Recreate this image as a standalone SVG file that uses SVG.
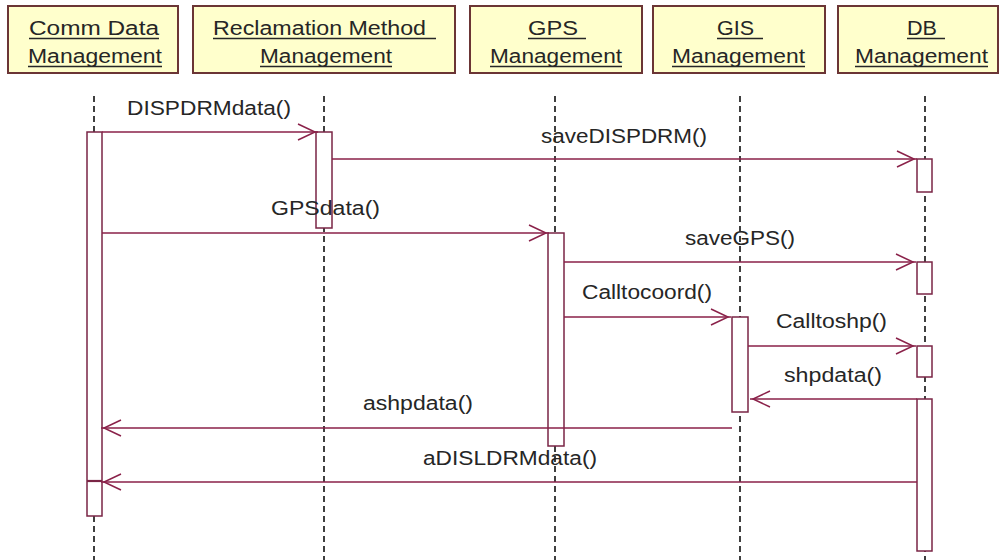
<svg xmlns="http://www.w3.org/2000/svg" width="1001" height="560" viewBox="0 0 1001 560">
  <defs>
    <style>
      .head { fill: #FFFFCC; stroke: #6b3535; stroke-width: 2; }
      .htxt { font-family: "Liberation Sans", Arial, sans-serif; font-size: 20px; fill: #262626; }
      .uline { stroke: #262626; stroke-width: 1.4; }
      .life { stroke: #111; stroke-width: 1.6; stroke-dasharray: 6 4; fill: none; }
      .act { fill: #ffffff; stroke: #7a2545; stroke-width: 1.5; }
      .msg { stroke: #8a2149; stroke-width: 1.5; fill: none; marker-end: url(#open); }
      .ret { stroke: #8a2149; stroke-width: 1.5; fill: none; }
      .mtxt { font-family: "Liberation Sans", Arial, sans-serif; font-size: 20px; fill: #262626; }
    </style>
    <!-- open V arrowhead, tip sits 3px short of the line end -->
    <marker id="open" markerUnits="userSpaceOnUse" markerWidth="24" markerHeight="20" refX="20" refY="8" orient="auto" overflow="visible">
      <path d="M0,0 L17,8 L0,16" fill="none" stroke="#8a2149" stroke-width="1.5"/>
    </marker>
  </defs>

  <rect width="1001" height="560" fill="#ffffff"/>

  <!-- lifelines -->
  <g id="lifelines">
    <line class="life" x1="94" y1="96" x2="94" y2="560"/>
    <line class="life" x1="324" y1="96" x2="324" y2="560"/>
    <line class="life" x1="555" y1="96" x2="555" y2="560"/>
    <line class="life" x1="740" y1="96" x2="740" y2="560"/>
    <line class="life" x1="925" y1="96" x2="925" y2="560"/>
  </g>

  <!-- participants -->
  <g id="comm-data">
    <rect class="head" x="8" y="6" width="170" height="67"/>
    <text class="htxt" x="29" y="35" textLength="130" lengthAdjust="spacingAndGlyphs">Comm Data</text>
    <line class="uline" x1="29" y1="38.5" x2="159" y2="38.5"/>
    <text class="htxt" x="28" y="63" textLength="134" lengthAdjust="spacingAndGlyphs">Management</text>
    <line class="uline" x1="28" y1="66.5" x2="162" y2="66.5"/>
    <rect class="act" x="87" y="132" width="15" height="384"/>
    <line x1="87" y1="481" x2="102" y2="481" stroke="#7a2545" stroke-width="2.2"/>
  </g>

  <g id="reclamation-method">
    <rect class="head" x="193" y="6" width="262" height="67"/>
    <text class="htxt" x="213" y="35" textLength="213" lengthAdjust="spacingAndGlyphs">Reclamation Method</text>
    <line class="uline" x1="213" y1="38.5" x2="436" y2="38.5"/>
    <text class="htxt" x="260" y="63" textLength="132" lengthAdjust="spacingAndGlyphs">Management</text>
    <line class="uline" x1="260" y1="66.5" x2="392" y2="66.5"/>
    <rect class="act" x="316" y="132" width="16" height="96"/>
  </g>

  <g id="gps">
    <rect class="head" x="470" y="6" width="172" height="67"/>
    <text class="htxt" x="528" y="35" textLength="50" lengthAdjust="spacingAndGlyphs">GPS</text>
    <line class="uline" x1="528" y1="38.5" x2="586" y2="38.5"/>
    <text class="htxt" x="490" y="63" textLength="132" lengthAdjust="spacingAndGlyphs">Management</text>
    <line class="uline" x1="490" y1="66.5" x2="622" y2="66.5"/>
    <rect class="act" x="548" y="233" width="16" height="213"/>
  </g>

  <g id="gis">
    <rect class="head" x="653" y="6" width="172" height="67"/>
    <text class="htxt" x="717" y="35" textLength="37" lengthAdjust="spacingAndGlyphs">GIS</text>
    <line class="uline" x1="717" y1="38.5" x2="763" y2="38.5"/>
    <text class="htxt" x="672" y="63" textLength="133" lengthAdjust="spacingAndGlyphs">Management</text>
    <line class="uline" x1="672" y1="66.5" x2="805" y2="66.5"/>
    <rect class="act" x="732" y="317" width="16" height="95"/>
  </g>

  <g id="db">
    <rect class="head" x="838" y="6" width="160" height="67"/>
    <text class="htxt" x="907" y="35" textLength="30" lengthAdjust="spacingAndGlyphs">DB</text>
    <line class="uline" x1="907" y1="38.5" x2="945" y2="38.5"/>
    <text class="htxt" x="855" y="63" textLength="133" lengthAdjust="spacingAndGlyphs">Management</text>
    <line class="uline" x1="855" y1="66.5" x2="988" y2="66.5"/>
    <rect class="act" x="917" y="159" width="15" height="33"/>
    <rect class="act" x="917" y="262" width="15" height="32"/>
    <rect class="act" x="917" y="346" width="15" height="31"/>
    <rect class="act" x="917" y="399" width="15" height="152"/>
  </g>

  <!-- messages -->
  <g id="connectors">
    <line class="msg" x1="102" y1="132" x2="318" y2="132"/>
    <line class="msg" x1="332" y1="159" x2="917" y2="159"/>
    <line class="msg" x1="102" y1="233" x2="549" y2="233"/>
    <line class="msg" x1="564" y1="262" x2="916" y2="262"/>
    <line class="msg" x1="564" y1="317" x2="731" y2="317"/>
    <line class="msg" x1="748" y1="346" x2="916" y2="346"/>
    <line class="msg" x1="917" y1="399" x2="750" y2="399"/>
    <line class="msg" x1="732" y1="428" x2="101" y2="428"/>
    <line class="msg" x1="917" y1="482" x2="101" y2="482"/>
  </g>

  <g id="labels">
    <text class="mtxt" x="127" y="115" textLength="164" lengthAdjust="spacingAndGlyphs">DISPDRMdata()</text>
    <text class="mtxt" x="541" y="143" textLength="166" lengthAdjust="spacingAndGlyphs">saveDISPDRM()</text>
    <text class="mtxt" x="271" y="215" textLength="109" lengthAdjust="spacingAndGlyphs">GPSdata()</text>
    <text class="mtxt" x="685" y="245" textLength="110" lengthAdjust="spacingAndGlyphs">saveGPS()</text>
    <text class="mtxt" x="582" y="299" textLength="130" lengthAdjust="spacingAndGlyphs">Calltocoord()</text>
    <text class="mtxt" x="776" y="328" textLength="111" lengthAdjust="spacingAndGlyphs">Calltoshp()</text>
    <text class="mtxt" x="784" y="382" textLength="98" lengthAdjust="spacingAndGlyphs">shpdata()</text>
    <text class="mtxt" x="363" y="410" textLength="110" lengthAdjust="spacingAndGlyphs">ashpdata()</text>
    <text class="mtxt" x="423" y="465" textLength="174" lengthAdjust="spacingAndGlyphs">aDISLDRMdata()</text>
  </g>
</svg>
